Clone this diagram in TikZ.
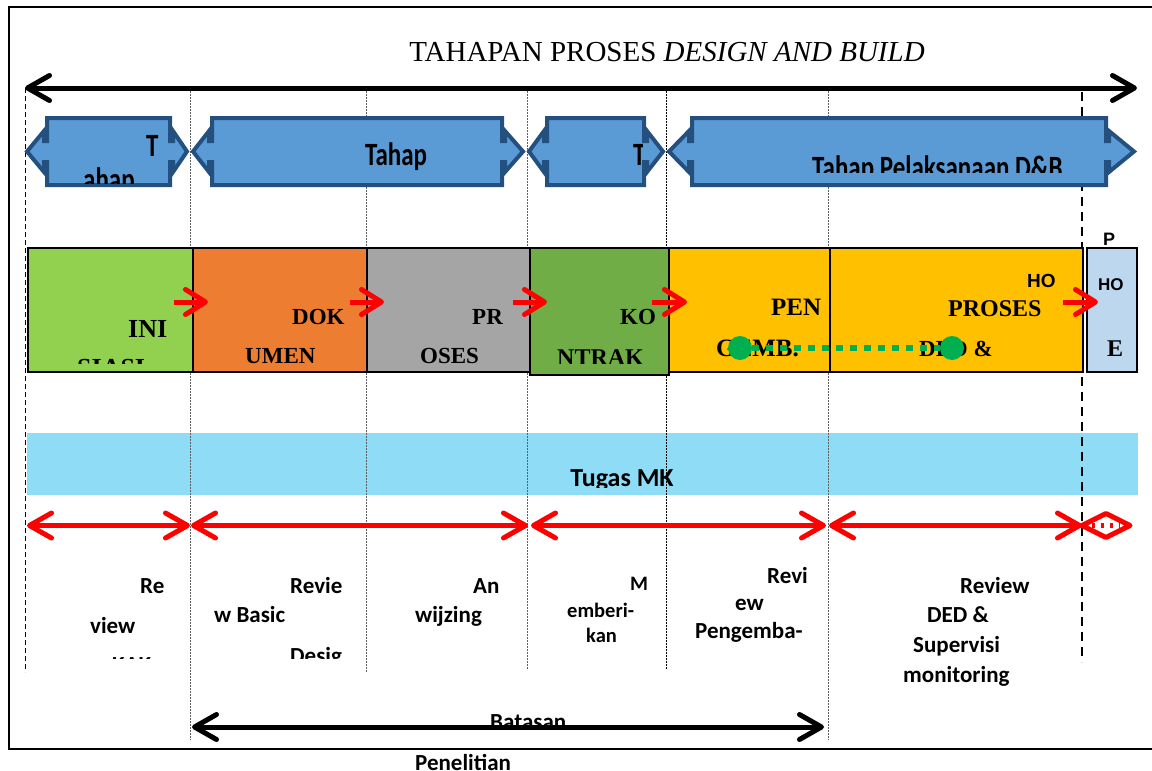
\documentclass[tikz,border=0pt]{standalone}
\usepackage{graphicx}
\usepackage{fontspec}
\setmainfont{Liberation Serif}
\newfontfamily\calfont{Carlito}
\newfontfamily\arfont{Liberation Sans}
\usetikzlibrary{arrows.meta,calc}

\definecolor{phasefill}{HTML}{5B9BD5}
\definecolor{phaseborder}{HTML}{24507F}
\definecolor{stgA}{HTML}{92D050}
\definecolor{stgB}{HTML}{ED7D31}
\definecolor{stgC}{HTML}{A5A5A5}
\definecolor{stgD}{HTML}{70AD47}
\definecolor{stgE}{HTML}{FFC000}
\definecolor{stgF}{HTML}{BDD7EE}
\definecolor{bandc}{HTML}{8FDCF6}
\definecolor{dotgreen}{HTML}{00B050}

\newcommand\fs[1]{\fontsize{#1}{#1}\selectfont}

% double-headed phase arrow: left tip, body left, body right, right tip
\newcommand\phasearrow[4]{%
  \draw[phase] (#2,118) -- (#3,118) -- (#3,141) -- ({#3+3},141) -- ({#3+3},131)
    -- (#4,151.5) -- ({#3+3},172) -- ({#3+3},162) -- (#3,162) -- (#3,185)
    -- (#2,185) -- (#2,162) -- ({#2-3},162) -- ({#2-3},172) -- (#1,151.5)
    -- ({#2-3},131) -- ({#2-3},141) -- (#2,141) -- cycle;}

\begin{document}
\begin{tikzpicture}[x=1pt,y=-1pt,
  frameline/.style={line width=1.7pt},
  guide/.style={line width=0.9pt, gray!75!black, dash pattern=on 1.5pt off 1.5pt},
  guidedark/.style={line width=0.9pt, black, dash pattern=on 1.5pt off 1.5pt},
  edgedash/.style={line width=1pt, black, dash pattern=on 5pt off 3pt},
  handover/.style={line width=2.5pt, black, dash pattern=on 9pt off 6pt},
  phase/.style={draw=phaseborder, fill=phasefill, line width=4pt, line join=miter},
  stage/.style={draw=black, line width=2.5pt, inner sep=0pt, outer sep=0pt, anchor=north west},
  lbl/.style={inner sep=0pt, anchor=base west},
  phasetxt/.style={lbl, font=\calfont\bfseries\fs{25}},
  stagetxt/.style={lbl, font=\bfseries\fs{24}},
  stagesans/.style={lbl, font=\arfont\bfseries\fs{19}},
  notetxt/.style={lbl, font=\calfont\bfseries\fs{23}},
  span/.style={line width=5pt, >={Straight Barb[length=22pt,width=25pt,round]}, <->},
  redspan/.style={span, red},
  flow/.style={line width=5pt, red, -{Straight Barb[length=20pt,width=25pt,round]}},
  link/.style={line width=6pt, dotgreen, dash pattern=on 7pt off 7pt},
  linkend/.style={circle, fill=dotgreen, inner sep=0pt, minimum size=24pt}
]
\useasboundingbox (0,0) rectangle (1152,771);

% coordination band
\node[fill=bandc, minimum width=1111pt, minimum height=62pt, anchor=north west,
      inner sep=0pt, outer sep=0pt] (mk) at (27,433) {};
\begin{scope}
  \clip (27,433) rectangle (1138,487);
  \node[anchor=base, inner sep=0pt, font=\calfont\bfseries\fs{26}] (mklabel) at (622,486) {Tugas MK};
\end{scope}

% outer frame
\draw[frameline] (1152,7) -- (9,7) -- (9,749) -- (1152,749);

% title
\node[anchor=base, inner sep=0pt] (title) at (667,61)
  {\fs{29}TAHAPAN PROSES \textit{DESIGN AND BUILD}};

% vertical guides
\draw[edgedash] (25,88) -- (25,672);
\draw[guide] (190,88) -- (190,740);
\draw[guide] (366,88) -- (366,673);
\draw[guide] (527,88) -- (527,670);
\draw[guidedark] (666,88) -- (666,670);
\draw[guide] (828,88) -- (828,740);
\draw[handover] (1082,92) -- (1082,662);

% overall span
\coordinate (allL) at (25,88);
\coordinate (allR) at (1137,88);
\draw[span] (allL) -- (allR);

% phase arrows
\phasearrow{27}{47}{170}{187}
\phasearrow{193}{212}{502}{523}
\phasearrow{529}{547}{644}{663}
\phasearrow{669}{692}{1106}{1134}

\begin{scope}
  \clip (49,120) rectangle (168,183);
  \node[phasetxt] (ph1a) at (146,156) {\scalebox{1}[1.3]{T}};
  \node[phasetxt] (ph1b) at (83,190) {\scalebox{1}[1.3]{ahap}};
\end{scope}
\node[phasetxt, anchor=base] (ph2) at (396,165) {\scalebox{1}[1.3]{Tahap}};
\begin{scope}
  \clip (549,120) rectangle (642,183);
  \node[phasetxt] (ph3) at (633,165) {\scalebox{1}[1.3]{T}};
\end{scope}
\begin{scope}
  \clip (694,120) rectangle (1104,172);
  \node[phasetxt] (ph4) at (812,178) {\scalebox{1}[1.3]{Tahap Pelaksanaan D\&B}};
\end{scope}

% stage boxes
\node[stage, fill=stgA, minimum width=165pt, minimum height=124pt] (inisiasi) at (28,248) {};
\node[stage, fill=stgB, minimum width=174pt, minimum height=124pt] (dokumen) at (193,248) {};
\node[stage, fill=stgC, minimum width=163pt, minimum height=124pt] (proses) at (367,248) {};
\node[stage, fill=stgE, minimum width=161pt, minimum height=124pt] (pengemb) at (669,248) {};
\node[stage, fill=stgE, minimum width=253pt, minimum height=124pt] (ded) at (830,248) {};
\node[stage, fill=stgD, minimum width=139pt, minimum height=127pt] (kontrak) at (530,248) {};
\node[stage, fill=stgF, minimum width=50pt, minimum height=124pt] (ho) at (1087,248) {};

\begin{scope}
  \clip (0,240) rectangle (1152,363);
  \node[stagetxt, font=\bfseries\fs{26}] (s1a) at (128,337) {INI};
  \node[stagetxt, font=\bfseries\fs{26}] (s1b) at (77,376) {SIASI};
  \node[stagetxt, font=\bfseries\fs{23}] (s2a) at (292,324) {DOK};
  \node[stagetxt, font=\bfseries\fs{23}] (s2b) at (245,363) {UMEN};
  \node[stagetxt, font=\bfseries\fs{23}] (s3a) at (472,324) {PR};
  \node[stagetxt, font=\bfseries\fs{23}] (s3b) at (420,363) {OSES};
  \node[stagetxt, font=\bfseries\fs{23}] (s4a) at (620,324) {KO};
  \node[stagetxt] (s4b) at (557,365) {NTRAK};
  \node[stagetxt, font=\bfseries\fs{25}] (s5a) at (771,315) {PEN};
  \node[stagetxt, font=\bfseries\fs{25}] (s5b) at (716,356) {GEMB.};
  \node[stagesans] (s6a) at (1027,287) {HO};
  \node[stagetxt] (s6b) at (948,316) {PROSES};
  \node[stagetxt, font=\bfseries\fs{23}] (s6c) at (919,356) {DED \&};
  \node[stagesans, font=\arfont\bfseries\fs{17}] (s7b) at (1098,290) {HO};
  \node[stagetxt] (s7c) at (1107,356) {E};
\end{scope}
\node[stagesans, font=\arfont\bfseries\fs{18}] (s7a) at (1103,245) {P};

% link between design development and DED
\node[linkend] (linkL) at (740,348) {};
\node[linkend] (linkR) at (952,348) {};
\draw[link] (linkL) -- (linkR);

% flow between stages
\draw[flow] (174,302) coordinate (f1a) -- (208,302) coordinate (f1b);
\draw[flow] (350,302) coordinate (f2a) -- (384,302) coordinate (f2b);
\draw[flow] (513,302) coordinate (f3a) -- (547,302) coordinate (f3b);
\draw[flow] (652,302) coordinate (f4a) -- (687,302) coordinate (f4b);
\draw[flow] (1063,302) coordinate (f5a) -- (1098,302) coordinate (f5b);

% responsibility spans
\coordinate (m0) at (27,525.5);
\coordinate (m1a) at (190,525.5);
\coordinate (m1b) at (191,525.5);
\coordinate (m2a) at (528,525.5);
\coordinate (m2b) at (531,525.5);
\coordinate (m3a) at (826,525.5);
\coordinate (m3b) at (829,525.5);
\coordinate (m4) at (1082,525.5);
\coordinate (m5) at (1130,525.5);
\draw[redspan] (m0) -- (m1a);
\draw[redspan] (m1b) -- (m2a);
\draw[redspan] (m2b) -- (m3a);
\draw[redspan] (m3b) -- (m4);
% short hand-over span
\draw[line width=5pt, red, line cap=round, line join=round]
  ($(m4)+(24,-12)$) -- (m4) -- ($(m4)+(24,12)$) -- (m5) -- cycle;
\draw[line width=5pt, red, dash pattern=on 3pt off 6pt] ($(m4)+(10,0)$) -- ($(m5)+(-10,0)$);

% descriptions
\begin{scope}
  \clip (0,540) rectangle (900,658);
  \node[notetxt] (d1a) at (140,593) {Re};
  \node[notetxt] (d1b) at (90,633) {view};
  \node[notetxt] (d1c) at (112,672) {KAK};
  \node[notetxt] (d2a) at (290,593) {Revie};
  \node[notetxt] (d2b) at (214,622) {w Basic};
  \node[notetxt] (d2c) at (290,663) {Desig};
  \node[notetxt] (d3a) at (473,593) {An};
  \node[notetxt] (d3b) at (415,622) {wijzing};
  \node[notetxt, font=\calfont\bfseries\fs{20.5}] (d4a) at (630,590) {M};
  \node[notetxt, font=\calfont\bfseries\fs{20.5}] (d4b) at (567,617) {emberi-};
  \node[notetxt, font=\calfont\bfseries\fs{20.5}] (d4c) at (586,642) {kan};
  \node[notetxt] (d5a) at (767,583) {Revi};
  \node[notetxt] (d5b) at (735,610) {ew};
  \node[notetxt] (d5c) at (695,638) {Pengemba-};
  \node[notetxt] (d5d) at (720,673) {ngan};
\end{scope}
\node[notetxt] (d6a) at (960,593) {Review};
\node[notetxt] (d6b) at (927,622) {DED \&};
\node[notetxt] (d6c) at (913,652) {Supervisi};
\node[notetxt] (d6d) at (903,682) {monitoring};

% research scope
\node[notetxt] (bat) at (490,729) {Batasan};
\node[notetxt] (pen) at (415,770) {Penelitian};
\coordinate (bL) at (192,727);
\coordinate (bR) at (824,727);
\draw[span] (bL) -- (bR);
\end{tikzpicture}
\end{document}
